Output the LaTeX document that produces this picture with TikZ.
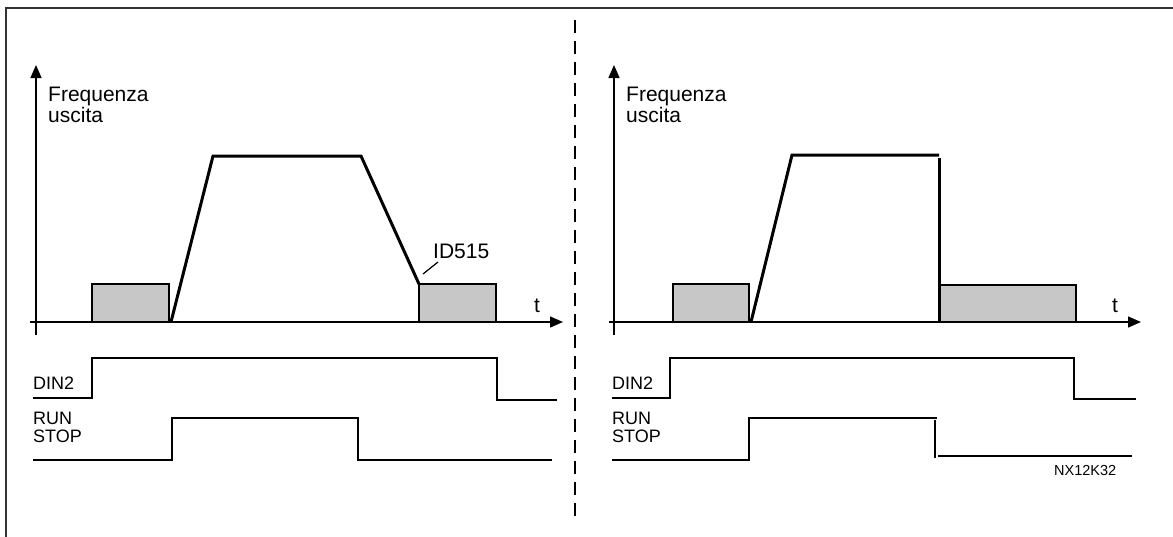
\documentclass[tikz,border=0pt]{standalone}
\usepackage{fontspec}
\setmainfont{Liberation Sans}
\usetikzlibrary{arrows.meta}
\begin{document}
\begin{tikzpicture}[x=1pt,y=-1pt,
  axis/.style={line width=1.5pt,-{Triangle[length=13pt,width=11pt]}},
  curve/.style={line width=3pt,line join=miter},
  sig/.style={line width=2pt},
  greybox/.style={draw,line width=2.8pt,fill=black!22},
  lbl/.style={inner sep=0pt,anchor=base west,font=\fontsize{21}{22}\selectfont},
  slbl/.style={inner sep=0pt,anchor=base west,font=\fontsize{18}{19}\selectfont},
  tlbl/.style={inner sep=0pt,anchor=base west,font=\fontsize{14.5}{15}\selectfont}]
\useasboundingbox (0,0) rectangle (1173,536);
% frame
\draw[line width=2.5pt,black!80] (6,545) -- (6,8) -- (1180,8);
% divider
\draw[line width=1.5pt,dash pattern=on 13pt off 8pt] (575,20) -- (575,521);

% ---------- left panel ----------
\coordinate (ly0) at (36,335); \coordinate (ly1) at (36,65);
\coordinate (lx0) at (30,322); \coordinate (lx1) at (563,322);
\draw[axis] (ly0) -- (ly1);
\draw[axis] (lx0) -- (lx1);
\node[lbl] (lf1) at (48,101) {Frequenza};
\node[lbl] (lf2) at (48,122) {uscita};
\node[lbl] (lt) at (534,312) {t};
\draw[greybox] (92,284) rectangle (169,322);
\draw[greybox] (419,284) rectangle (496,322);
\draw[curve] (171,322) -- (213,156) -- (361,156) -- (419,284);
\node[lbl] (lid) at (433,258) {ID515};
\coordinate (lida) at (423,274); \coordinate (lidb) at (438,262);
\draw[line width=1.2pt] (lida) -- (lidb);
% DIN2
\node[slbl] (ldin) at (33,389) {DIN2};
\draw[sig,line join=miter] (33,398) -- (92,398) -- (92,358) -- (497,358) -- (497,400) -- (557,400);
% RUN/STOP
\node[slbl] (lrun) at (33,424) {RUN};
\node[slbl] (lstop) at (33,442) {STOP};
\draw[sig,line join=miter] (33,460) -- (172,460) -- (172,418) -- (358,418) -- (358,460) -- (552,460);

% ---------- right panel ----------
\coordinate (ry0) at (614,335); \coordinate (ry1) at (614,65);
\coordinate (rx0) at (609,322); \coordinate (rx1) at (1141,322);
\draw[axis] (ry0) -- (ry1);
\draw[axis] (rx0) -- (rx1);
\node[lbl] (rf1) at (626,101) {Frequenza};
\node[lbl] (rf2) at (626,122) {uscita};
\node[lbl] (rt) at (1112,312) {t};
\draw[greybox] (673,284) rectangle (749,322);
\draw[greybox] (940,285) rectangle (1076,322);
\draw[curve] (751,322) -- (792,155) -- (939,155);
\draw[curve] (939,158) -- (939,322);
% DIN2
\node[slbl] (rdin) at (612,389) {DIN2};
\draw[sig,line join=miter] (612,398) -- (670,398) -- (670,358) -- (1074,358) -- (1074,399) -- (1136,399);
% RUN/STOP
\node[slbl] (rrun) at (612,424) {RUN};
\node[slbl] (rstop) at (612,442) {STOP};
\draw[sig,line join=miter] (612,460) -- (749,460) -- (749,418) -- (937,418);
\draw[sig] (935,420) -- (935,458);
\draw[sig] (938,456) -- (1132,456);
\node[tlbl] (code) at (1054,475) {NX12K32};
\end{tikzpicture}
\end{document}
